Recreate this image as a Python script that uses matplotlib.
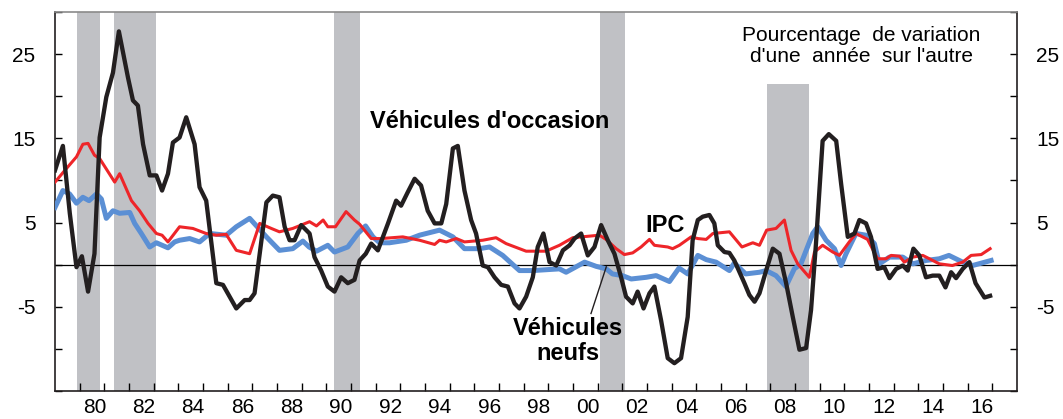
import matplotlib.pyplot as plt

plt.rcParams['font.family'] = ['Liberation Sans', 'DejaVu Sans']

# Véhicules d'occasion (noir)
occ_years = [1979.0, 1979.32, 1979.6, 1979.87, 1980.09, 1980.34, 1980.6, 1980.81, 1981.08, 1981.35,
             1981.59, 1981.96, 1982.16, 1982.36, 1982.57, 1982.84, 1983.11, 1983.34, 1983.58, 1983.78,
             1984.05, 1984.32, 1984.66, 1984.86, 1985.13, 1985.54, 1985.81, 1986.35, 1986.69, 1986.89,
             1987.09, 1987.3, 1987.57, 1987.83, 1988.1, 1988.31, 1988.51, 1988.71, 1988.98, 1989.32,
             1989.52, 1989.79, 1990.06, 1990.33, 1990.6, 1990.87, 1991.14, 1991.35, 1991.6, 1991.82,
             1992.09, 1992.5, 1992.83, 1993.03, 1993.3, 1993.58, 1993.84, 1994.11, 1994.39, 1994.66,
             1994.86, 1995.13, 1995.33, 1995.6, 1995.87, 1996.07, 1996.34, 1996.55, 1996.82, 1997.09,
             1997.36, 1997.63, 1997.83, 1998.1, 1998.37, 1998.57, 1998.8, 1999.05, 1999.32, 1999.59,
             1999.86, 2000.06, 2000.33, 2000.6, 2000.87, 2001.14, 2001.41, 2001.68, 2001.95, 2002.15,
             2002.42, 2002.62, 2002.86, 2003.1, 2003.3, 2003.57, 2003.84, 2004.11, 2004.38, 2004.65,
             2004.85, 2005.06, 2005.26, 2005.53, 2005.73, 2005.87, 2006.14, 2006.34, 2006.54, 2006.95,
             2007.15, 2007.36, 2007.56, 2007.83, 2008.1, 2008.37, 2008.64, 2008.91, 2009.18, 2009.45,
             2009.65, 2009.85, 2010.12, 2010.37, 2010.67, 2010.87, 2011.14, 2011.41, 2011.61, 2011.88,
             2012.08, 2012.35, 2012.62, 2012.83, 2013.1, 2013.37, 2013.57, 2013.8, 2014.04, 2014.31,
             2014.58, 2014.85, 2015.1, 2015.33, 2015.53, 2015.8, 2016.07, 2016.32, 2016.68, 2016.91]
occ_vals = [11.2, 14.1, 6.1, -0.3, 1.0, -3.2, 1.3, 15.1, 19.9, 22.8,
            27.7, 22.2, 19.5, 18.9, 14.3, 10.6, 10.6, 8.8, 10.8, 14.5,
            15.1, 17.5, 14.3, 9.2, 7.6, -2.2, -2.4, -5.2, -4.2, -4.2,
            -3.4, 1.3, 7.4, 8.2, 8.0, 4.5, 2.9, 2.9, 4.7, 3.7,
            0.9, -0.7, -2.6, -3.2, -1.5, -2.2, -1.8, 0.5, 1.3, 2.5,
            1.7, 4.9, 7.6, 7.0, 8.6, 10.2, 9.4, 6.4, 4.9, 4.9,
            7.2, 13.8, 14.1, 8.8, 5.3, 3.7, -0.1, -0.3, -1.5, -2.4,
            -2.6, -4.6, -5.2, -3.8, -1.5, 2.1, 3.7, 0.3, -0.1, 1.7,
            2.3, 3.1, 3.7, 1.1, 2.1, 4.7, 2.9, 1.3, -1.5, -3.8,
            -4.6, -3.2, -5.2, -3.4, -2.6, -6.6, -11.1, -11.7, -11.1, -6.2,
            2.9, 5.3, 5.7, 5.9, 4.9, 2.3, 1.5, 1.4, 0.5, -2.2,
            -3.6, -4.4, -3.4, -0.7, 1.9, 1.3, -2.2, -6.2, -10.1, -9.9,
            -5.4, 2.5, 14.7, 15.5, 14.7, 9.6, 3.3, 3.7, 5.3, 4.9,
            3.3, -0.5, -0.3, -1.6, -0.5, -0.1, -0.7, 1.9, 1.1, -1.5,
            -1.3, -1.3, -2.7, -0.9, -1.6, -0.5, 0.3, -2.2, -3.9, -3.7]

# Véhicules neufs (bleu)
neuf_years = [1979.0, 1979.32, 1979.59, 1979.87, 1980.13, 1980.38, 1980.68, 1980.88, 1981.08, 1981.35,
              1981.62, 1982.03, 1982.23, 1982.5, 1982.84, 1983.11, 1983.58, 1983.85, 1984.05, 1984.46,
              1984.86, 1985.27, 1985.94, 1986.35, 1986.89, 1987.2, 1987.57, 1988.1, 1988.64, 1989.05,
              1989.3, 1989.6, 1990.06, 1990.33, 1990.87, 1991.28, 1991.59, 1991.89, 1992.16, 1992.56,
              1993.24, 1993.78, 1994.59, 1995.13, 1995.6, 1996.2, 1996.62, 1997.15, 1997.83, 1998.37,
              1999.45, 1999.72, 2000.47, 2000.94, 2001.35, 2001.6, 2002.0, 2002.36, 2002.97, 2003.37,
              2003.91, 2004.3, 2004.65, 2005.06, 2005.4, 2005.8, 2006.34, 2006.54, 2007.0, 2007.56,
              2007.83, 2008.23, 2008.63, 2008.97, 2009.24, 2009.72, 2009.92, 2010.26, 2010.6, 2010.87,
              2011.07, 2011.47, 2011.88, 2012.22, 2012.42, 2012.83, 2013.37, 2013.78, 2014.31, 2014.85,
              2015.24, 2015.8, 2016.2, 2016.95]
neuf_vals = [6.8, 8.8, 8.4, 7.3, 8.0, 7.6, 8.4, 7.8, 5.5, 6.4,
             6.1, 6.2, 4.9, 3.7, 2.1, 2.6, 2.0, 2.7, 2.9, 3.1,
             2.7, 3.7, 3.5, 4.5, 5.5, 4.5, 3.3, 1.7, 1.9, 2.8,
             2.1, 1.6, 2.3, 1.5, 2.1, 3.7, 4.6, 3.3, 2.6, 2.6,
             2.9, 3.5, 4.1, 3.3, 1.9, 1.9, 2.1, 1.1, -0.7, -0.7,
             -0.5, -0.9, 0.3, -0.2, -0.5, -1.1, -1.3, -1.7, -1.5, -1.3,
             -2.0, -0.4, -1.1, 1.1, 0.6, 0.3, -0.7, 0.2, -1.1, -0.9,
             -0.7, -1.3, -2.6, -0.5, 0.1, 3.7, 4.5, 2.9, 1.9, -0.1,
             1.3, 3.7, 3.5, 2.5, 0.1, 0.9, 0.9, 0.1, 0.5, 0.7,
             1.1, 0.3, -0.1, 0.5]

# IPC (rouge)
ipc_years = [1979.0, 1979.4, 1979.87, 1980.13, 1980.34, 1980.6, 1980.81, 1981.42, 1981.62, 1981.83,
             1982.1, 1982.43, 1982.77, 1983.11, 1983.34, 1983.58, 1984.05, 1984.59, 1985.13, 1985.54,
             1985.94, 1986.35, 1986.89, 1987.3, 1987.77, 1988.1, 1988.64, 1989.32, 1989.6, 1989.87,
             1990.06, 1990.37, 1990.8, 1991.14, 1991.35, 1991.82, 1992.23, 1993.1, 1993.78, 1994.39,
             1994.59, 1994.86, 1995.27, 1995.6, 1996.34, 1996.88, 1997.29, 1997.83, 1998.1, 1998.9,
             1999.45, 1999.99, 2001.07, 2001.34, 2001.75, 2002.08, 2002.42, 2002.76, 2003.1, 2003.3,
             2003.84, 2004.04, 2004.31, 2004.79, 2005.06, 2005.4, 2005.67, 2006.34, 2006.85, 2007.29,
             2007.56, 2007.85, 2008.23, 2008.57, 2008.84, 2009.11, 2009.58, 2009.79, 2010.12, 2010.53,
             2010.8, 2011.2, 2011.47, 2011.94, 2012.35, 2012.69, 2012.9, 2013.24, 2013.43, 2013.78,
             2014.18, 2014.85, 2015.38, 2015.8, 2016.14, 2016.55, 2016.91]
ipc_vals = [9.8, 11.2, 12.8, 14.3, 14.4, 13.0, 12.6, 9.8, 10.8, 9.4,
            7.6, 6.4, 4.9, 3.7, 3.5, 2.7, 4.5, 4.3, 3.7, 3.5,
            3.6, 1.7, 1.3, 4.9, 4.3, 3.9, 4.3, 5.1, 4.6, 5.3,
            4.5, 4.5, 6.3, 5.3, 4.8, 3.1, 3.1, 3.3, 2.9, 2.4,
            2.9, 2.7, 3.1, 2.7, 2.9, 3.2, 2.5, 1.9, 1.6, 1.6,
            2.3, 3.2, 3.5, 3.0, 1.9, 1.2, 1.4, 2.1, 3.0, 2.3,
            2.1, 1.9, 2.3, 3.3, 3.1, 3.0, 3.7, 3.9, 2.1, 2.6,
            2.3, 4.1, 4.3, 5.3, 1.7, 0.1, -1.5, 1.5, 2.3, 1.5,
            1.1, 2.7, 3.7, 3.0, 0.7, 0.7, 1.1, 1.0, 0.3, 0.9,
            1.1, 0.1, -0.1, 0.3, 1.1, 1.2, 1.9]

# périodes de récession
rec_start = [1979.88, 1981.38, 1990.33, 2001.11, 2007.87]
rec_end = [1980.84, 1983.11, 1991.35, 2002.09, 2009.58]
rec_top = [30, 30, 30, 30, 21.5]

fig = plt.figure(figsize=(10.63, 4.19), dpi=100)
ax = fig.add_axes([55 / 1063, 28 / 419, 962 / 1063, 379 / 419])

for s, e, t in zip(rec_start, rec_end, rec_top):
    ax.fill_between([s, e], -15, t, color='#c0c1c5', lw=0, zorder=1)

ax.axhline(0, color='black', lw=0.9, zorder=2)
ax.plot(neuf_years, neuf_vals, color='#5b8fd4', lw=3.6, zorder=3, solid_joinstyle='round')
ax.plot(ipc_years, ipc_vals, color='#ee2529', lw=2.2, zorder=4, solid_joinstyle='round')
ax.plot(occ_years, occ_vals, color='#231f20', lw=3.1, zorder=5, solid_joinstyle='round')

ax.set_xlim(1979.0, 2018.0)
ax.set_ylim(-15, 30)

# axes
yt = list(range(-15, 31, 5))
ax.set_yticks(yt)
ax.set_yticklabels([str(v) if v in (25, 15, 5, -5) else '' for v in yt])
ax.tick_params(axis='y', direction='in', length=5, width=1, labelsize=15, pad=14,
               left=True, right=True, labelleft=True, labelright=True)

ax.set_xticks(range(1980, 2018))
ax.set_xticklabels([])
ax.set_xticks([y + 0.6 for y in range(1980, 2017, 2)], minor=True)
ax.set_xticklabels(['%02d' % (y % 100) for y in range(1980, 2017, 2)], minor=True)
ax.tick_params(axis='x', which='major', direction='in', length=6, width=1)
ax.tick_params(axis='x', which='minor', length=0, labelsize=15, pad=5)

for side in ['left', 'right', 'bottom']:
    ax.spines[side].set_linewidth(1.2)
    ax.spines[side].set_color('#231f20')
ax.spines['top'].set_linewidth(1.2)
ax.spines['top'].set_color('#8a8a8a')

# annotations
ax.text(1996.62, 17.0, "Véhicules d'occasion", fontsize=17, fontweight='bold',
        ha='center', va='center', zorder=6)
ax.text(2003.75, 4.7, 'IPC', fontsize=17, fontweight='bold', ha='center', va='center', zorder=6)
ax.text(1999.78, -9.1, 'Véhicules\nneufs', fontsize=17, fontweight='bold', ha='center',
        va='center', linespacing=1.1, zorder=6)
ax.plot([2000.73, 2001.35], [-5.8, -0.25], color='#231f20', lw=1.0, zorder=6)
ax.text(2011.7, 26.0, "Pourcentage  de variation\nd'une  année  sur l'autre", fontsize=15,
        ha='center', va='center', linespacing=1.15, zorder=6)

fig.savefig('out.png', dpi=100)
